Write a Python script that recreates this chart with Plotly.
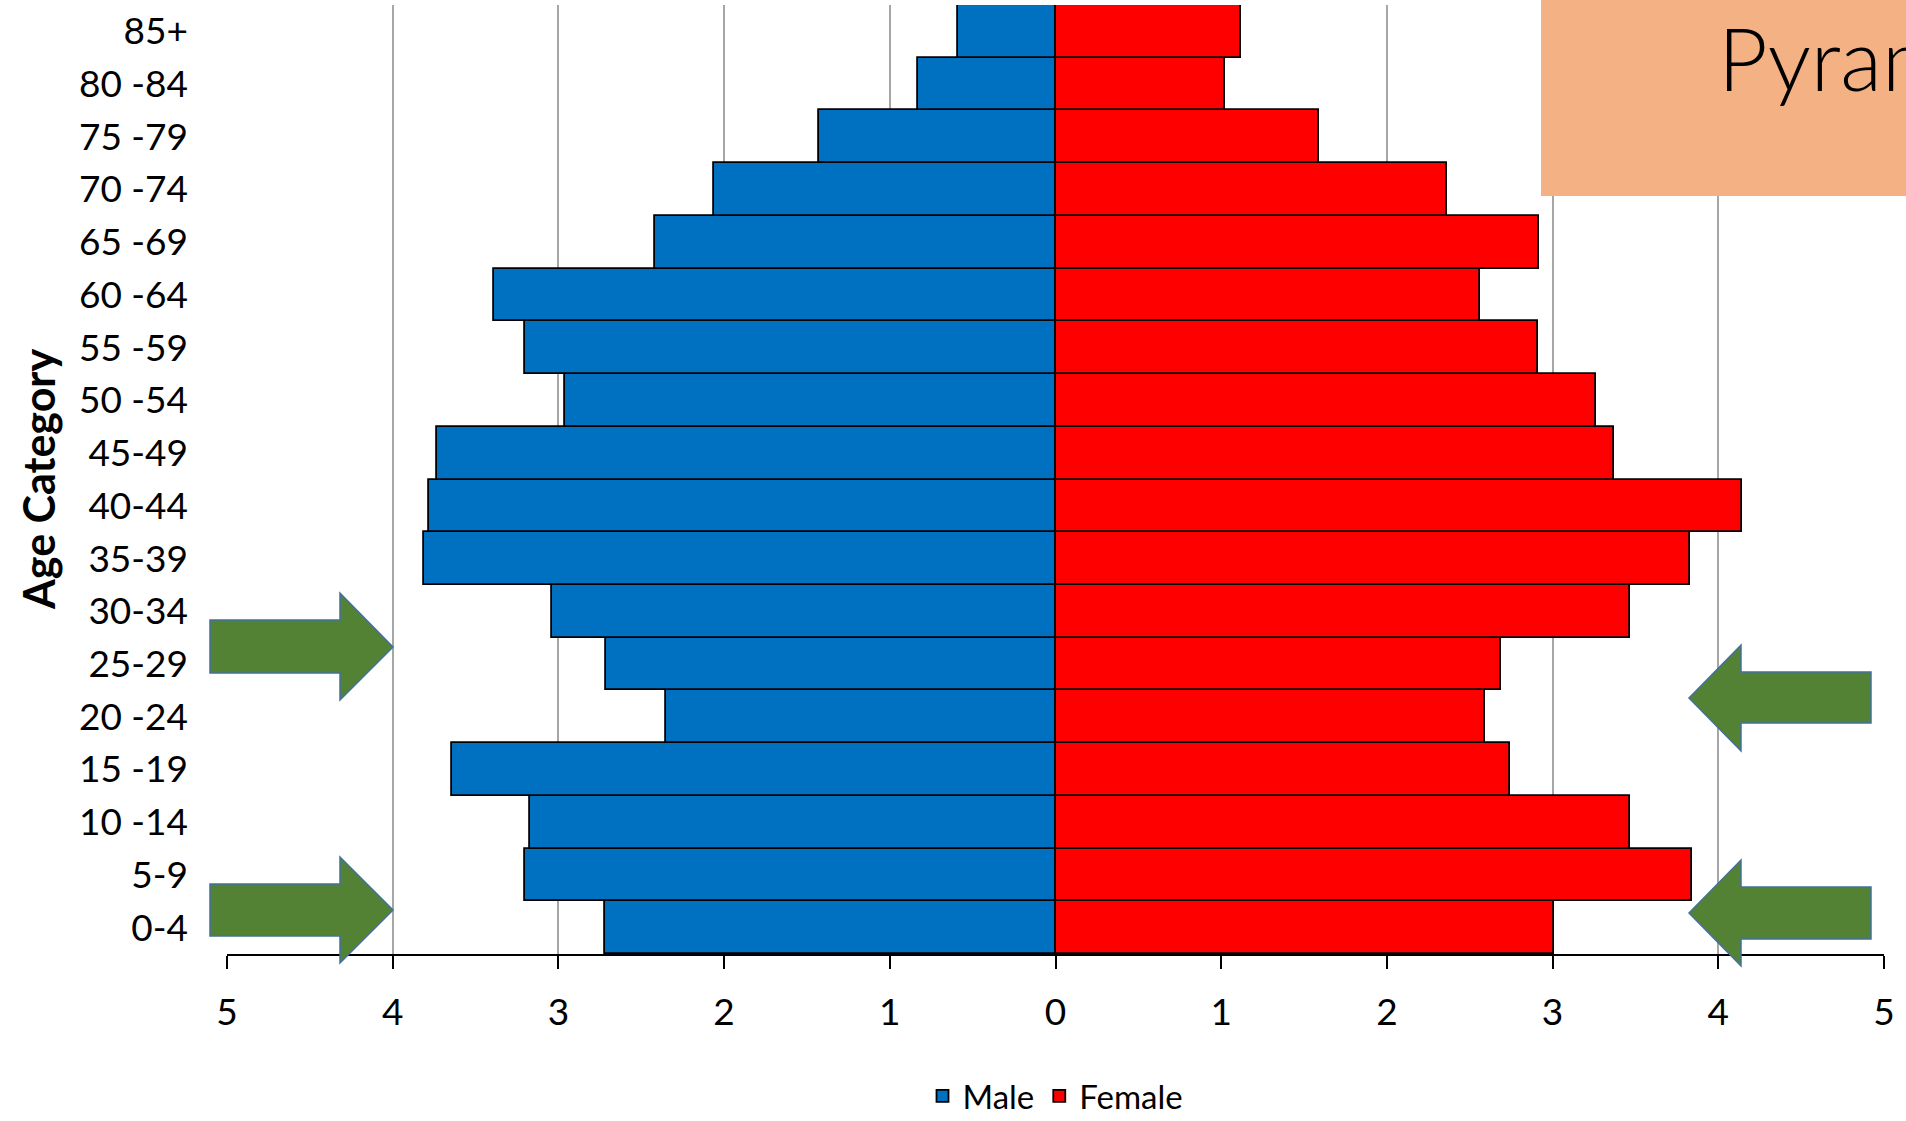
import plotly.graph_objects as go

# ---- data ----
age_groups = ["0-4", "5-9", "10 -14", "15 -19", "20 -24", "25-29", "30-34", "35-39",
              "40-44", "45-49", "50 -54", "55 -59", "60 -64", "65 -69", "70 -74",
              "75 -79", "80 -84", "85+"]
male = [2.72, 3.20, 3.17, 3.64, 2.35, 2.71, 3.04, 3.81, 3.78, 3.73, 2.96, 3.20,
        3.39, 2.42, 2.06, 1.43, 0.83, 0.59]
female = [3.01, 3.84, 3.47, 2.74, 2.59, 2.69, 3.47, 3.83, 4.14, 3.37, 3.26, 2.91,
          2.56, 2.92, 2.36, 1.59, 1.02, 1.12]
tick_vals = [-5, -4, -3, -2, -1, 0, 1, 2, 3, 4, 5]
tick_text = ["5", "4", "3", "2", "1", "0", "1", "2", "3", "4", "5"]

W, H = 1906, 1121
L, R, T, B = 227, 1884, 5, 954  # plot area in pixels


def px(x):
    return (x - L) / (R - L)


def py(y):
    return (B - y) / (B - T)


FONT = "Lato"

fig = go.Figure()
fig.add_trace(go.Bar(
    y=age_groups, x=[-v for v in male], orientation="h", name="Male",
    marker=dict(color="#0070C0", line=dict(color="#000000", width=1.8)),
    customdata=male, hovertemplate="%{y}: %{customdata}<extra>Male</extra>",
))
fig.add_trace(go.Bar(
    y=age_groups, x=female, orientation="h", name="Female",
    marker=dict(color="#FF0000", line=dict(color="#000000", width=1.8)),
    hovertemplate="%{y}: %{x}<extra>Female</extra>",
))


def arrow_path(pts):
    return "M " + " L ".join(f"{px(a):.5f},{py(b):.5f}" for a, b in pts) + " Z"


arrows = [
    [(210, 620), (340, 620), (340, 593), (393, 647), (340, 700), (340, 673), (210, 673)],
    [(210, 884), (340, 884), (340, 857), (393, 910), (340, 963), (340, 936), (210, 936)],
    [(1871, 672), (1741, 672), (1741, 645), (1689, 698), (1741, 751), (1741, 723), (1871, 723)],
    [(1871, 887), (1741, 887), (1741, 860), (1689, 913), (1741, 966), (1741, 939), (1871, 939)],
]
shapes = []
for pts in arrows:
    shapes.append(dict(type="path", xref="paper", yref="paper", path=arrow_path(pts),
                       fillcolor="#548235", line=dict(color="#41719C", width=1.5),
                       layer="above"))
shapes.append(dict(type="rect", xref="paper", yref="paper",
                   x0=px(1541), x1=px(1920), y0=py(196), y1=py(-10),
                   fillcolor="#F4B183", line=dict(width=0), layer="above"))

annotations = [
    dict(text="Pyramid", xref="paper", yref="paper", x=px(1716), y=py(58),
         xanchor="left", yanchor="middle", showarrow=False,
         font=dict(family=FONT, size=86, color="#000000", weight=300)),
    dict(text="<b>Age Category</b>", xref="paper", yref="paper", x=px(38), y=py(480),
         xanchor="center", yanchor="middle", textangle=-90, showarrow=False,
         font=dict(family=FONT, size=43, color="#000000")),
]

fig.update_layout(
    width=W, height=H,
    margin=dict(l=L, r=W - R, t=T, b=H - B, pad=0, autoexpand=False),
    paper_bgcolor="white", plot_bgcolor="white",
    barmode="relative", bargap=0,
    font=dict(family=FONT, size=37, color="#000000"),
    showlegend=True,
    legend=dict(orientation="h", x=0.5, xanchor="center", y=py(1096), yanchor="middle",
                font=dict(family=FONT, size=33, color="#000000"),
                bgcolor="rgba(0,0,0,0)", traceorder="normal"),
    shapes=shapes, annotations=annotations,
)
fig.update_xaxes(
    range=[-5, 5], tickvals=tick_vals, ticktext=tick_text,
    showgrid=True, gridcolor="#A6A6A6", gridwidth=1.5, zeroline=False,
    showline=True, linecolor="#000000", linewidth=1.5,
    ticks="outside", ticklen=13, tickwidth=1.5, tickcolor="#000000",
    ticklabelstandoff=12, tickfont=dict(family=FONT, size=37, color="#000000"),
    fixedrange=True,
)
fig.update_yaxes(
    type="category", categoryorder="array", categoryarray=age_groups,
    showgrid=False, zeroline=False, showline=False, ticks="",
    ticklabelstandoff=38, tickfont=dict(family=FONT, size=37, color="#000000"),
    fixedrange=True,
)

fig.write_html("out.html", config={"displayModeBar": False},
               post_script="document.body.style.margin='0';document.body.style.overflow='hidden';")
